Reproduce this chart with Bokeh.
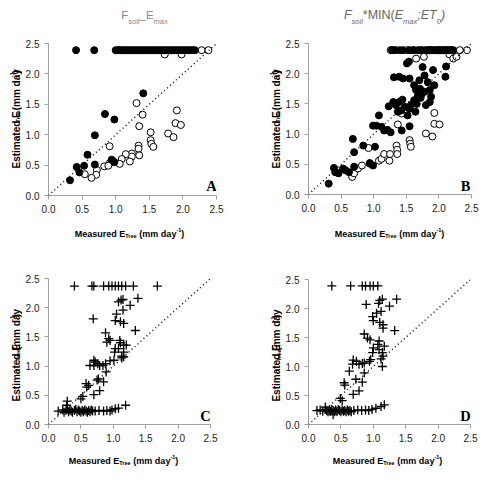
import math

from bokeh.embed import file_html
from bokeh.layouts import column, row
from bokeh.models import FixedTicker, Label, NumeralTickFormatter, Range1d, Slope
from bokeh.plotting import figure
from bokeh.resources import INLINE

# ---------------------------------------------------------------- data
tick_values = [0.0, 0.5, 1.0, 1.5, 2.0, 2.5]

# Panel A: F_soil E_max
a_filled_x = [0.41, 0.68, 1.00, 1.03, 1.05, 1.08, 1.10, 1.13, 1.16, 1.19, 1.22, 1.25,
              1.28, 1.31, 1.34, 1.37, 1.40, 1.43, 1.46, 1.49, 1.52, 1.55, 1.58, 1.61,
              1.64, 1.67, 1.70, 1.73, 1.76, 1.79, 1.82, 1.85, 1.88, 1.91, 1.94, 1.97,
              2.00, 2.03, 2.06, 2.09, 2.12, 2.15, 2.18,
              1.41, 0.84, 0.98, 0.69, 0.58, 0.94, 0.98, 0.69, 0.53, 0.42, 0.46, 0.32]
a_filled_y = [2.39, 2.39, 2.39, 2.39, 2.39, 2.39, 2.39, 2.39, 2.39, 2.39, 2.39, 2.39,
              2.39, 2.39, 2.39, 2.39, 2.39, 2.39, 2.39, 2.39, 2.39, 2.39, 2.39, 2.39,
              2.39, 2.39, 2.39, 2.39, 2.39, 2.39, 2.39, 2.39, 2.39, 2.39, 2.39, 2.39,
              2.39, 2.39, 2.39, 2.39, 2.39, 2.39, 2.39,
              1.68, 1.34, 1.25, 0.99, 0.67, 0.59, 0.55, 0.51, 0.49, 0.47, 0.38, 0.25]
a_open_x = [1.73, 1.98, 2.28, 2.38, 1.31, 1.40, 1.35, 1.91, 1.89, 1.97, 1.78, 1.86,
            1.52, 1.52, 1.53, 1.56, 1.34, 1.34, 1.35, 1.24, 1.24, 1.15, 1.21, 1.09,
            1.06, 0.91, 0.91, 0.83, 0.89, 0.72, 0.71, 0.64, 0.54]
a_open_y = [2.32, 2.32, 2.39, 2.39, 1.52, 1.33, 1.14, 1.40, 1.19, 1.16, 1.02, 0.96,
            1.04, 0.91, 0.85, 0.80, 0.82, 0.77, 0.66, 0.69, 0.64, 0.68, 0.56, 0.60,
            0.52, 0.81, 0.53, 0.48, 0.49, 0.42, 0.34, 0.29, 0.35]

# Panel B: F_soil * MIN(E_max; ET_0)
b_filled_x = [1.28, 1.31, 1.40, 1.45, 1.55, 1.62, 1.68, 1.72, 1.80, 1.83, 1.86, 1.89,
              1.92, 1.95, 1.98, 2.01, 2.04, 2.07, 2.10, 2.13, 2.16, 2.19, 2.22,
              0.31, 0.39, 0.41, 0.46, 0.53, 0.57, 0.62, 0.68, 0.70, 0.70, 0.84, 0.94,
              0.99, 1.02, 0.99, 1.04, 1.08, 1.12, 1.16, 1.21, 1.26, 1.23, 1.30, 1.34,
              1.39, 1.42, 1.44, 1.37, 1.43, 1.55, 1.31, 1.39, 1.45, 1.51, 1.54, 1.55,
              1.62, 1.65, 1.70, 1.71, 1.75, 1.78, 1.83, 1.86, 1.88, 1.91, 1.93, 1.74,
              1.68, 1.62, 1.57, 1.55, 1.52, 1.64, 1.80, 1.86, 2.11, 2.10, 1.72, 1.78,
              1.66, 1.48]
b_filled_y = [2.39, 2.39, 2.39, 2.39, 2.39, 2.39, 2.39, 2.39, 2.39, 2.39, 2.39, 2.39,
              2.39, 2.39, 2.39, 2.39, 2.39, 2.39, 2.39, 2.39, 2.39, 2.39, 2.39,
              0.18, 0.44, 0.37, 0.35, 0.43, 0.40, 0.37, 0.92, 0.70, 0.46, 0.81, 0.52,
              0.48, 0.79, 1.14, 1.14, 1.31, 1.12, 1.06, 1.07, 1.03, 1.46, 1.53, 1.48,
              1.53, 1.39, 1.57, 1.37, 1.06, 1.13, 1.94, 1.95, 1.92, 2.17, 2.20, 1.92,
              1.81, 1.73, 1.89, 1.75, 2.11, 1.97, 1.86, 1.73, 1.62, 2.06, 1.81, 1.67,
              1.64, 1.56, 1.48, 1.42, 1.31, 1.37, 1.48, 1.53, 2.12, 1.95, 1.60, 1.70,
              1.50, 1.45]
b_open_x = [1.26, 1.34, 1.51, 1.60, 1.75, 1.86, 2.01, 2.11, 2.19, 2.32, 2.43,
            1.65, 1.77, 2.16, 2.22, 2.27, 0.67, 0.70, 0.76, 0.82, 0.92, 0.94, 1.08,
            1.12, 1.16, 1.24, 1.25, 1.35, 1.36, 1.36, 1.37, 1.43, 1.55, 1.56, 1.57,
            1.80, 1.90, 1.93, 2.01, 1.93]
b_open_y = [2.39, 2.39, 2.39, 2.39, 2.39, 2.39, 2.39, 2.39, 2.39, 2.39, 2.39,
            2.25, 2.28, 2.32, 2.25, 2.28, 0.29, 0.35, 0.43, 0.48, 0.77, 0.51, 0.56,
            0.59, 0.67, 0.56, 0.67, 0.81, 0.74, 0.67, 1.16, 1.34, 0.90, 0.84, 0.79,
            1.01, 0.96, 1.17, 1.16, 1.35]

# Panel C
c_x = [0.40, 0.67, 0.70, 0.85, 0.93, 0.98, 1.03, 1.08, 1.13, 1.19, 1.31, 1.68,
       1.08, 1.12, 1.15, 1.26, 1.38, 1.15, 1.05, 1.03, 1.11, 1.16, 0.69, 1.34,
       0.88, 0.93, 0.95, 0.90, 1.10, 1.11, 1.03, 1.08, 1.16, 1.20, 1.02, 1.16,
       1.13, 1.16, 1.13, 0.70, 0.72, 0.64, 0.70, 0.76, 0.79, 0.84, 0.88, 0.95,
       1.01, 0.89, 0.85, 0.75, 0.77, 0.58, 0.59, 0.62, 0.79, 0.70, 0.53, 0.50,
       0.29, 0.28,
       0.15, 0.22, 0.24, 0.27, 0.29, 0.31, 0.33, 0.35, 0.37, 0.40, 0.42, 0.44,
       0.46, 0.48, 0.50, 0.52, 0.54, 0.56, 0.58, 0.60, 0.62, 0.64, 0.66, 0.68,
       0.72, 0.78, 0.85, 0.90, 0.95, 0.98, 1.03, 1.08, 1.19]
c_y = [2.37, 2.37, 2.37, 2.37, 2.37, 2.37, 2.37, 2.37, 2.37, 2.37, 2.37, 2.37,
       2.10, 2.13, 2.14, 2.04, 2.16, 1.96, 1.89, 1.78, 1.76, 1.73, 1.81, 1.61,
       1.57, 1.47, 1.44, 1.41, 1.44, 1.40, 1.30, 1.30, 1.36, 1.36, 1.24, 1.24,
       1.17, 1.16, 1.14, 1.10, 1.07, 1.01, 1.01, 1.04, 1.01, 1.01, 1.04, 1.09,
       1.10, 0.90, 0.73, 0.76, 0.78, 0.70, 0.64, 0.67, 0.58, 0.51, 0.48, 0.44,
       0.40, 0.33,
       0.23, 0.25, 0.21, 0.24, 0.26, 0.22, 0.25, 0.23, 0.21, 0.24, 0.26, 0.22,
       0.25, 0.23, 0.21, 0.24, 0.22, 0.25, 0.23, 0.21, 0.24, 0.22, 0.25, 0.23,
       0.23, 0.24, 0.23, 0.24, 0.23, 0.25, 0.27, 0.28, 0.33]

# Panel D
d_x = [0.36, 0.65, 0.83, 0.88, 0.95, 1.00, 1.07,
       0.89, 1.08, 1.10, 1.14, 1.25, 1.36, 1.05, 1.12, 1.00, 0.99, 1.10, 1.15,
       1.15, 1.33, 0.86, 0.91, 0.95, 1.09, 1.07, 1.00, 1.17, 0.99, 1.09, 1.14,
       1.15, 1.12, 1.14, 0.69, 0.68, 0.74, 0.78, 0.83, 0.86, 0.94, 0.96, 0.86,
       0.63, 0.73, 0.55, 0.56, 0.83, 0.78, 0.69, 0.49, 0.52,
       0.13, 0.18, 0.22, 0.26, 0.28, 0.30, 0.32, 0.34, 0.36, 0.38, 0.40, 0.42,
       0.44, 0.46, 0.48, 0.50, 0.52, 0.54, 0.56, 0.58, 0.60, 0.62, 0.64, 0.66,
       0.70, 0.76, 0.82, 0.88, 0.93, 0.98, 1.04, 1.12, 1.17, 0.38, 0.26]
d_y = [2.39, 2.39, 2.39, 2.39, 2.39, 2.39, 2.39,
       2.07, 2.09, 2.14, 2.16, 2.04, 2.16, 1.92, 1.95, 1.79, 1.86, 1.76, 1.72,
       1.66, 1.62, 1.56, 1.49, 1.46, 1.44, 1.38, 1.32, 1.35, 1.24, 1.29, 1.24,
       1.18, 1.13, 1.00, 1.11, 1.04, 1.09, 1.04, 1.05, 1.06, 1.09, 1.12, 0.89,
       0.92, 0.78, 0.72, 0.68, 0.73, 0.58, 0.52, 0.45, 0.41,
       0.24, 0.25, 0.23, 0.26, 0.24, 0.22, 0.25, 0.23, 0.26, 0.24, 0.22, 0.25,
       0.23, 0.26, 0.24, 0.22, 0.25, 0.23, 0.24, 0.22, 0.25, 0.23, 0.24, 0.22,
       0.24, 0.25, 0.24, 0.25, 0.24, 0.26, 0.28, 0.31, 0.34, 0.17, 0.30]

# ---------------------------------------------------------------- text helpers
SANS = "Liberation Sans"
SERIF = "Liberation Serif"

ADV_REG = {' ': 278, '(': 333, ')': 333, '*': 389, '-': 333, '0': 556, '1': 556,
           ';': 278, '_': 556, 'E': 667, 'F': 611, 'I': 278, 'M': 833, 'N': 722,
           'T': 611, 'a': 556, 'd': 556, 'e': 556, 'i': 222, 'l': 222, 'm': 833,
           'o': 556, 'r': 333, 's': 500, 'x': 500, 'y': 500, 't': 278, 'u': 556}
ADV_BOLD = {' ': 278, '(': 333, ')': 333, '-': 333, '1': 556, 'E': 667, 'M': 833,
            'T': 611, 'a': 556, 'd': 611, 'e': 556, 'i': 278, 'm': 889, 'r': 389,
            's': 556, 't': 333, 'u': 611, 'y': 556}


def advance(txt, size, style):
    table = ADV_BOLD if "bold" in style else ADV_REG
    return sum(table.get(ch, 556) for ch in txt) * size / 1000.0


def strip(width, height):
    """A bare figure whose frame is the whole canvas, in pixel units, for text runs."""
    s = figure(width=width, height=height, x_range=Range1d(0, width),
               y_range=Range1d(0, height), min_border=0,
               min_border_left=0, min_border_right=0, min_border_top=0, min_border_bottom=0,
               x_axis_location=None, y_axis_location=None,
               output_backend="svg", toolbar_location=None, tools="")
    s.grid.visible = False
    s.outline_line_color = None
    s.background_fill_color = "white"
    s.border_fill_color = "white"
    return s


def rich_text(s, pieces, cx, cy, color, vertical=False, font=SANS):
    """Run of text pieces (with sub/superscripts) centred at (cx, cy), y measured from the top.

    Leading spaces are turned into an explicit gap, since SVG text drops them.
    """
    widths = [advance(t, sz, st) for t, sz, st, _ in pieces]
    total = sum(widths)
    h = s.height
    run = 0.0
    for (txt, size, style, shift), w in zip(pieces, widths):
        body = txt.lstrip(" ")
        gap = advance(txt[: len(txt) - len(body)], size, style)
        pos = run + gap
        if vertical:
            px, py = cx - shift, cy + total / 2 - pos
        else:
            px, py = cx - total / 2 + pos, cy - shift
        s.add_layout(Label(x=px, y=h - py, text=body,
                           angle=math.pi / 2 if vertical else 0,
                           text_font=font, text_font_size=f"{size}px",
                           text_font_style=style, text_color=color,
                           text_align="left", text_baseline="alphabetic"))
        run += w


def x_title(size, sub):
    return [("Measured E", size, "bold", 0), ("Tree", sub, "bold", -2.2),
            (" (mm day", size, "bold", 0), ("-1", sub, "bold", 3.8), (")", size, "bold", 0)]


def y_title(size, sub):
    return [("Estimated E", size, "bold", 0), ("Tree", sub, "bold", -2.2),
            (" (mm day", size, "bold", 0), ("-1", sub, "bold", 4.0), (")", size, "bold", 0)]


def panel(left, top, fw, fh, right, bottom, letter, letter_px):
    p = figure(frame_width=fw, frame_height=fh,
               min_border_left=left, min_border_top=top,
               min_border_right=right, min_border_bottom=bottom,
               x_range=Range1d(0, 2.5), y_range=Range1d(0, 2.5),
               output_backend="svg", toolbar_location=None, tools="")
    p.outline_line_color = None
    p.xgrid.visible = False
    p.ygrid.visible = False
    p.background_fill_color = "white"
    p.border_fill_color = "white"
    for ax in (p.xaxis[0], p.yaxis[0]):
        ax.ticker = FixedTicker(ticks=tick_values)
        ax.formatter = NumeralTickFormatter(format="0.0")
        ax.axis_line_color = "#a0a0a0"
        ax.axis_line_width = 1
        ax.major_tick_line_color = "#a0a0a0"
        ax.major_tick_in = 0
        ax.major_tick_out = 4
        ax.minor_tick_line_color = None
        ax.major_label_text_font = SANS
        ax.major_label_text_font_size = "10px"
        ax.major_label_text_color = "#222222"
        ax.major_label_standoff = 5

    # 1:1 reference line
    p.add_layout(Slope(gradient=1, y_intercept=0, line_color="black",
                       line_dash="1 3", line_width=1.4))

    # panel letter, placed by its pixel offset from the frame's top-left corner
    lx = letter_px[0] / fw * 2.5
    ly = (fh - letter_px[1]) / fh * 2.5
    p.add_layout(Label(x=lx, y=ly, text=letter, text_font=SERIF, text_font_size="14.5px",
                       text_font_style="bold", text_color="black",
                       text_align="center", text_baseline="middle"))
    return p


# ---------------------------------------------------------------- panels
pa = panel(23, 13, 168, 152, 29, 25, "A", (163, 142))
pb = panel(26, 13, 163, 151, 17, 25, "B", (157, 142))
pc = panel(23, 36, 162, 146, 35, 25, "C", (157, 137))
pd = panel(26, 37, 162, 145, 18, 25, "D", (157, 136))

pa.scatter(a_open_x, a_open_y, marker="circle", size=7, fill_color="white",
           line_color="black", line_width=1)
pa.scatter(a_filled_x, a_filled_y, marker="circle", size=7, fill_color="black",
           line_color="black", line_width=1)
pb.scatter(b_open_x, b_open_y, marker="circle", size=7, fill_color="white",
           line_color="black", line_width=1)
pb.scatter(b_filled_x, b_filled_y, marker="circle", size=7, fill_color="black",
           line_color="black", line_width=1)
pc.scatter(c_x, c_y, marker="cross", size=9, line_color="black", line_width=1.3)
pd.scatter(d_x, d_y, marker="cross", size=9, line_color="black", line_width=1.3)

# ---------------------------------------------------------------- headings and axis titles
head_a = strip(242, 30)
rich_text(head_a, [("F", 11.5, "normal", 0), ("soil", 7.5, "normal", -6.5),
                   ("_", 11.5, "normal", 0), ("E", 11.5, "normal", 0),
                   ("max", 7.5, "normal", -6.5)], 144, 14, "#888888")
head_b = strip(243, 30)
rich_text(head_b, [("F", 12.5, "italic", 0), ("soil", 7.5, "italic", -7),
                   ("*MIN(", 12.5, "normal", 0), ("E", 12.5, "italic", 0),
                   ("max", 7.5, "italic", -7), (";ET", 12.5, "italic", 0),
                   ("0", 7.5, "italic", -7), (")", 12.5, "italic", 0)],
          149, 14, "#666666")

ylab_a = strip(22, 190)
rich_text(ylab_a, y_title(10, 6), 15.5, 95, "black", vertical=True)
ylab_b = strip(37, 190)
rich_text(ylab_b, y_title(10, 6), 30.5, 95, "black", vertical=True)
ylab_c = strip(22, 207)
rich_text(ylab_c, y_title(10, 6), 15.5, 113, "black", vertical=True)
ylab_d = strip(37, 207)
rich_text(ylab_d, y_title(10, 6), 31, 113, "black", vertical=True)

xlab_a = strip(242, 22)
rich_text(xlab_a, x_title(9, 5.5), 129, 13, "black")
xlab_b = strip(243, 22)
rich_text(xlab_b, x_title(9, 5.5), 144, 13, "black")
xlab_c = strip(242, 34)
rich_text(xlab_c, x_title(9, 5.5), 123, 11, "black")
xlab_d = strip(243, 34)
rich_text(xlab_d, x_title(9, 5.5), 142, 11, "black")

block_a = column(head_a, row(ylab_a, pa), xlab_a)
block_b = column(head_b, row(ylab_b, pb), xlab_b)
block_c = column(row(ylab_c, pc), xlab_c)
block_d = column(row(ylab_d, pd), xlab_d)

layout = column(row(block_a, block_b), row(block_c, block_d))
open("out.html", "w").write(file_html(layout, INLINE))
